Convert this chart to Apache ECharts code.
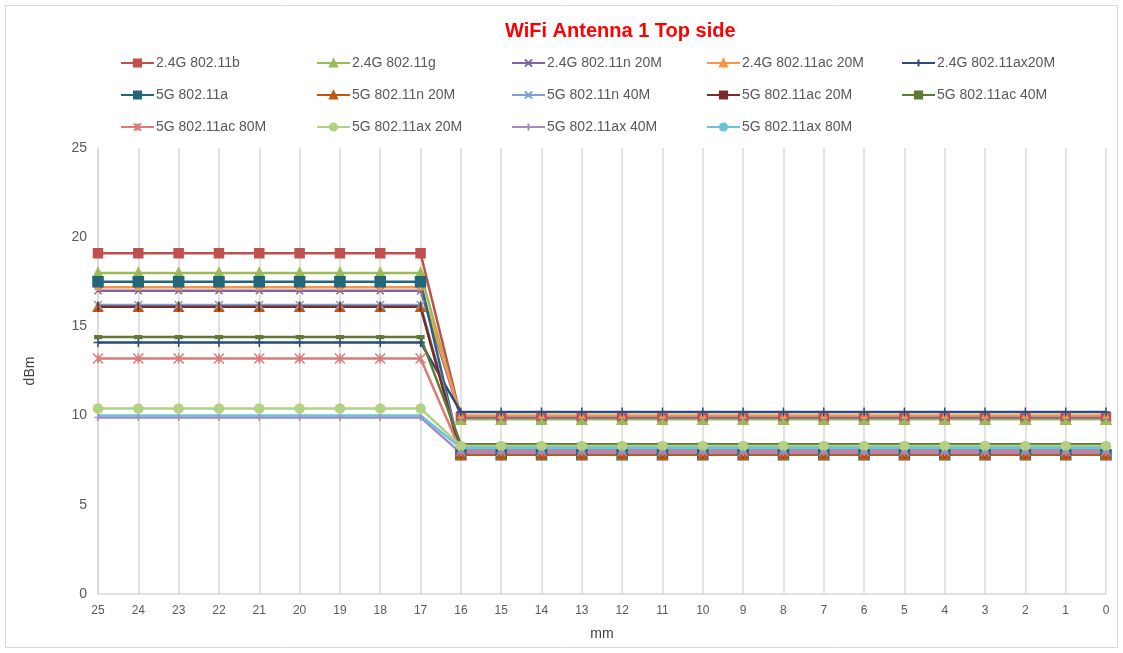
<!DOCTYPE html>
<html lang="en">
<head>
    <meta charset="UTF-8">
    <title>WiFi Antenna 1 Top side</title>
    <script src="https://cdn.jsdelivr.net/npm/echarts@6/dist/echarts.min.js"></script>
    <style>
        html, body {
            margin: 0;
            padding: 0;
            background: #ffffff;
        }
        #chart {
            width: 1123px;
            height: 653px;
        }
    </style>
</head>
<body>
    <div id="chart"></div>
    <script>
        // x categories (mm), read right-to-left as in the sheet
        var positions = ['25', '24', '23', '22', '21', '20', '19', '18', '17', '16', '15', '14', '13',
                         '12', '11', '10', '9', '8', '7', '6', '5', '4', '3', '2', '1', '0'];
        var yTicks = [0, 5, 10, 15, 20, 25];

        var g24_b    = [19.1, 19.1, 19.1, 19.1, 19.1, 19.1, 19.1, 19.1, 19.1, 9.9, 9.9, 9.9, 9.9, 9.9, 9.9, 9.9, 9.9, 9.9, 9.9, 9.9, 9.9, 9.9, 9.9, 9.9, 9.9, 9.9];
        var g24_g    = [18.0, 18.0, 18.0, 18.0, 18.0, 18.0, 18.0, 18.0, 18.0, 9.8, 9.8, 9.8, 9.8, 9.8, 9.8, 9.8, 9.8, 9.8, 9.8, 9.8, 9.8, 9.8, 9.8, 9.8, 9.8, 9.8];
        var g24_n20  = [17.0, 17.0, 17.0, 17.0, 17.0, 17.0, 17.0, 17.0, 17.0, 9.9, 9.9, 9.9, 9.9, 9.9, 9.9, 9.9, 9.9, 9.9, 9.9, 9.9, 9.9, 9.9, 9.9, 9.9, 9.9, 9.9];
        var g24_ac20 = [17.2, 17.2, 17.2, 17.2, 17.2, 17.2, 17.2, 17.2, 17.2, 10.0, 10.0, 10.0, 10.0, 10.0, 10.0, 10.0, 10.0, 10.0, 10.0, 10.0, 10.0, 10.0, 10.0, 10.0, 10.0, 10.0];
        var g24_ax20 = [14.1, 14.1, 14.1, 14.1, 14.1, 14.1, 14.1, 14.1, 14.1, 10.2, 10.2, 10.2, 10.2, 10.2, 10.2, 10.2, 10.2, 10.2, 10.2, 10.2, 10.2, 10.2, 10.2, 10.2, 10.2, 10.2];
        var g5_a     = [17.5, 17.5, 17.5, 17.5, 17.5, 17.5, 17.5, 17.5, 17.5, 7.8, 7.8, 7.8, 7.8, 7.8, 7.8, 7.8, 7.8, 7.8, 7.8, 7.8, 7.8, 7.8, 7.8, 7.8, 7.8, 7.8];
        var g5_n20   = [16.1, 16.1, 16.1, 16.1, 16.1, 16.1, 16.1, 16.1, 16.1, 7.8, 7.8, 7.8, 7.8, 7.8, 7.8, 7.8, 7.8, 7.8, 7.8, 7.8, 7.8, 7.8, 7.8, 7.8, 7.8, 7.8];
        var g5_n40   = [16.2, 16.2, 16.2, 16.2, 16.2, 16.2, 16.2, 16.2, 16.2, 8.1, 8.1, 8.1, 8.1, 8.1, 8.1, 8.1, 8.1, 8.1, 8.1, 8.1, 8.1, 8.1, 8.1, 8.1, 8.1, 8.1];
        var g5_ac20  = [16.1, 16.1, 16.1, 16.1, 16.1, 16.1, 16.1, 16.1, 16.1, 7.9, 7.9, 7.9, 7.9, 7.9, 7.9, 7.9, 7.9, 7.9, 7.9, 7.9, 7.9, 7.9, 7.9, 7.9, 7.9, 7.9];
        var g5_ac40  = [14.4, 14.4, 14.4, 14.4, 14.4, 14.4, 14.4, 14.4, 14.4, 8.4, 8.4, 8.4, 8.4, 8.4, 8.4, 8.4, 8.4, 8.4, 8.4, 8.4, 8.4, 8.4, 8.4, 8.4, 8.4, 8.4];
        var g5_ac80  = [13.2, 13.2, 13.2, 13.2, 13.2, 13.2, 13.2, 13.2, 13.2, 8.0, 8.0, 8.0, 8.0, 8.0, 8.0, 8.0, 8.0, 8.0, 8.0, 8.0, 8.0, 8.0, 8.0, 8.0, 8.0, 8.0];
        var g5_ax20  = [10.4, 10.4, 10.4, 10.4, 10.4, 10.4, 10.4, 10.4, 10.4, 8.3, 8.3, 8.3, 8.3, 8.3, 8.3, 8.3, 8.3, 8.3, 8.3, 8.3, 8.3, 8.3, 8.3, 8.3, 8.3, 8.3];
        var g5_ax40  = [9.9, 9.9, 9.9, 9.9, 9.9, 9.9, 9.9, 9.9, 9.9, 7.9, 7.9, 7.9, 7.9, 7.9, 7.9, 7.9, 7.9, 7.9, 7.9, 7.9, 7.9, 7.9, 7.9, 7.9, 7.9, 7.9];
        var g5_ax80  = [10.0, 10.0, 10.0, 10.0, 10.0, 10.0, 10.0, 10.0, 10.0, 8.2, 8.2, 8.2, 8.2, 8.2, 8.2, 8.2, 8.2, 8.2, 8.2, 8.2, 8.2, 8.2, 8.2, 8.2, 8.2, 8.2];

        // excel-like marker shapes
        var X_MARK = 'path://M0,0L10,10L10,10L0,0ZM10,0L0,10L0,10L10,0Z';
        var PLUS_MARK = 'path://M5,0L5,10L5,10L5,0ZM0,5L10,5L10,5L0,5Z';
        var STAR_MARK = 'path://M0,0L10,10L10,10L0,0ZM10,0L0,10L0,10L10,0ZM5,0L5,10L5,10L5,0Z';

        function mk(name, data, color, symbol, size) {
            return {
                name: name,
                type: 'line',
                data: data,
                symbol: symbol,
                symbolSize: size,
                showSymbol: symbol !== 'none',
                lineStyle: { color: color, width: 2.5 },
                itemStyle: { color: color, borderColor: color, borderWidth: 1.5 },
                emphasis: { disabled: true },
                z: 2
            };
        }

        var series = [
            mk('2.4G 802.11b', g24_b, '#C0504D', 'rect', 9),
            mk('2.4G 802.11g', g24_g, '#9BBB59', 'triangle', 10),
            mk('2.4G 802.11n 20M', g24_n20, '#8064A2', X_MARK, 7),
            mk('2.4G 802.11ac 20M', g24_ac20, '#F79646', 'triangle', 5),
            mk('2.4G 802.11ax20M', g24_ax20, '#2A4B7C', PLUS_MARK, 9),
            mk('5G 802.11a', g5_a, '#23677A', 'rect', 10),
            mk('5G 802.11n 20M', g5_n20, '#C0590C', 'triangle', 9),
            mk('5G 802.11n 40M', g5_n40, '#7BA0D4', X_MARK, 8),
            mk('5G 802.11ac 20M', g5_ac20, '#7A2C2A', 'rect', [1, 6]),
            mk('5G 802.11ac 40M', g5_ac40, '#5F7A34', 'rect', [6, 3]),
            mk('5G 802.11ac 80M', g5_ac80, '#DA7B78', STAR_MARK, 10),
            mk('5G 802.11ax 20M', g5_ax20, '#B3D183', 'circle', 9),
            mk('5G 802.11ax 40M', g5_ax40, '#A18BC4', PLUS_MARK, 7),
            mk('5G 802.11ax 80M', g5_ax80, '#6AC2DC', 'none', 0)
        ];

        // legend grid: 5 columns x 3 rows, filled row by row like the sheet
        var legendX = [120, 316, 511, 706, 901];
        var legendY = [56, 88, 120];
        var legends = series.map(function (s, i) {
            return {
                left: legendX[i % 5],
                top: legendY[Math.floor(i / 5)],
                padding: 0,
                itemWidth: 33,
                itemHeight: 9,
                selectedMode: false,
                data: [s.name],
                textStyle: { color: '#595959', fontSize: 14, fontFamily: 'Liberation Sans', padding: [0, 0, 0, -3] }
            };
        });

        var chart = echarts.init(document.getElementById('chart'));
        chart.setOption({
            animation: false,
            backgroundColor: '#ffffff',
            textStyle: { fontFamily: 'Liberation Sans' },
            title: {
                text: 'WiFi Antenna 1 Top side',
                left: 500,
                top: 16,
                textStyle: { color: '#FF0000', fontSize: 20, fontWeight: 'bold', fontFamily: 'Liberation Sans' }
            },
            graphic: [{
                type: 'rect',
                shape: { x: 5.5, y: 5.5, width: 1112, height: 642 },
                style: { fill: 'none', stroke: '#d9d9d9', lineWidth: 1 },
                silent: true
            }],
            legend: legends,
            grid: { left: 98, right: 17, top: 148, bottom: 59 },
            xAxis: {
                type: 'category',
                data: positions,
                boundaryGap: false,
                name: 'mm',
                nameLocation: 'middle',
                nameGap: 33,
                nameTextStyle: { color: '#404040', fontSize: 14 },
                axisLine: { lineStyle: { color: '#d9d9d9', width: 1.5 } },
                axisTick: { show: false },
                axisLabel: { interval: 0, color: '#595959', fontSize: 12, margin: 11 },
                splitLine: { show: true, lineStyle: { color: '#d9d9d9', width: 1.5 } }
            },
            yAxis: {
                type: 'value',
                min: yTicks[0],
                max: yTicks[yTicks.length - 1],
                interval: 5,
                name: 'dBm',
                nameLocation: 'middle',
                nameGap: 61,
                nameTextStyle: { color: '#404040', fontSize: 14 },
                axisLine: { show: true, lineStyle: { color: '#d9d9d9', width: 1.5 } },
                axisTick: { show: false },
                axisLabel: { color: '#595959', fontSize: 14, margin: 11 },
                splitLine: { show: false }
            },
            series: series
        });
    </script>
</body>
</html>
